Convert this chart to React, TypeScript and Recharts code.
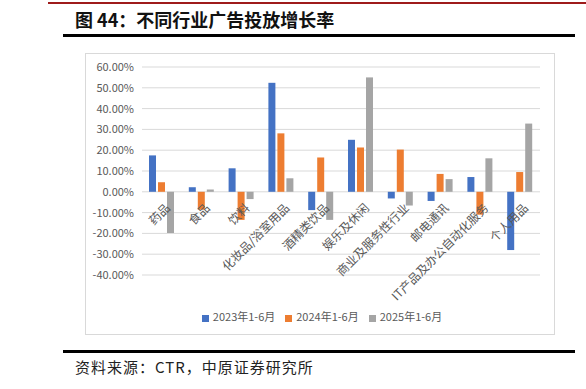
import React from 'react';
import { BarChart, Bar, XAxis, YAxis, CartesianGrid, Legend } from 'recharts';

// industries, as they appear on the x axis
const CATEGORIES = [
    '药品',
    '食品',
    '饮料',
    '化妆品/浴室用品',
    '酒精类饮品',
    '娱乐及休闲',
    '商业及服务性行业',
    '邮电通讯',
    'IT产品及办公自动化服务',
    '个人用品',
];

// growth rate, %
const H1_2023 = [17.5, 2.2, 11.3, 52.4, -8.8, 25.0, -3.2, -4.4, 7.1, -28.0];
const H1_2024 = [4.6, -8.6, -13.5, 28.1, 16.5, 21.3, 20.3, 8.6, -11.0, 9.5];
const H1_2025 = [-19.8, 1.1, -3.5, 6.5, -13.5, 55.0, -6.6, 6.1, 16.1, 32.8];

const SERIES_NAMES = ['2023年1-6月', '2024年1-6月', '2025年1-6月'];
const Y_TICKS = [-40, -30, -20, -10, 0, 10, 20, 30, 40, 50, 60];

const COLORS = ['#4472C4', '#ED7D31', '#A5A5A5'];
const TEXT = '#595959';
const GRID = '#D9D9D9';
const FONT = '"Noto Sans CJK SC", "Liberation Sans", sans-serif';

const CHART_W = 470;
const CHART_H = 282;
const MARGIN = { top: 14, right: 15, left: 7, bottom: 0 };
const X_AXIS_H = 60;
const Y_MIN = Y_TICKS[0];
const Y_MAX = Y_TICKS[Y_TICKS.length - 1];

// distance from the plot bottom up to the zero line; category labels hang off the zero line like in Excel
const PLOT_H = CHART_H - MARGIN.top - MARGIN.bottom - X_AXIS_H;
const ZERO_SHIFT = (PLOT_H * (0 - Y_MIN)) / (Y_MAX - Y_MIN);

const data = CATEGORIES.map((name, i) => ({
    name,
    a: H1_2023[i],
    b: H1_2024[i],
    c: H1_2025[i],
}));

const CategoryTick = (props: any) => {
    const { x, y, payload } = props;
    return (
        <g transform={`translate(${x + 6},${y - ZERO_SHIFT + 12})`}>
            <text
                textAnchor="end"
                transform="rotate(-45)"
                dy="0.35em"
                fill={TEXT}
                fontSize={12}
                fontFamily={FONT}
            >
                {payload.value}
            </text>
        </g>
    );
};

export default function App() {
    return (
        <div
            style={{
                position: 'absolute',
                left: 0,
                top: 0,
                width: 586,
                height: 389,
                background: '#fff',
                fontFamily: FONT,
                overflow: 'hidden',
            }}
        >
            {/* header rules and title */}
            <div style={{ position: 'absolute', left: 48, top: 2, width: 538, height: 2, background: '#9E1B1B' }} />
            <div
                style={{
                    position: 'absolute',
                    left: 75,
                    top: 6,
                    fontSize: 18,
                    fontWeight: 700,
                    color: '#111',
                    whiteSpace: 'nowrap',
                }}
            >
                图 44：不同行业广告投放增长率
            </div>
            <div style={{ position: 'absolute', left: 63, top: 34, width: 512, height: 3, background: '#000' }} />

            {/* chart frame */}
            <div
                style={{
                    position: 'absolute',
                    left: 85,
                    top: 53,
                    width: CHART_W,
                    height: CHART_H,
                    boxSizing: 'border-box',
                    border: `1px solid ${GRID}`,
                }}
            />
            <div style={{ position: 'absolute', left: 85, top: 53 }}>
                <BarChart
                    width={CHART_W}
                    height={CHART_H}
                    data={data}
                    margin={MARGIN}
                    barSize={7}
                    barGap={2}
                >
                    <CartesianGrid vertical={false} stroke={GRID} />
                    <XAxis
                        dataKey="name"
                        height={X_AXIS_H}
                        axisLine={false}
                        tickLine={false}
                        tickSize={0}
                        interval={0}
                        tick={<CategoryTick />}
                    />
                    <YAxis
                        domain={[Y_MIN, Y_MAX]}
                        ticks={Y_TICKS}
                        width={50}
                        axisLine={false}
                        tickLine={false}
                        tickFormatter={(v: number) => `${v.toFixed(2)}%`}
                        tick={{ fill: TEXT, fontSize: 11, fontFamily: FONT }}
                        interval={0}
                    />
                    <Legend
                        layout="horizontal"
                        verticalAlign="middle"
                        align="center"
                        iconType="square"
                        iconSize={7}
                        wrapperStyle={{ top: 255, left: 7, width: CHART_W, fontSize: 11, fontFamily: FONT }}
                        formatter={(value: string) => <span style={{ color: TEXT }}>{value}</span>}
                    />
                    <Bar dataKey="a" name={SERIES_NAMES[0]} fill={COLORS[0]} isAnimationActive={false} />
                    <Bar dataKey="b" name={SERIES_NAMES[1]} fill={COLORS[1]} isAnimationActive={false} />
                    <Bar dataKey="c" name={SERIES_NAMES[2]} fill={COLORS[2]} isAnimationActive={false} />
                </BarChart>
            </div>

            {/* footer */}
            <div style={{ position: 'absolute', left: 63, top: 350, width: 512, height: 3, background: '#000' }} />
            <div
                style={{
                    position: 'absolute',
                    left: 75,
                    top: 356,
                    fontSize: 15,
                    letterSpacing: 1,
                    color: '#222',
                    whiteSpace: 'nowrap',
                }}
            >
                资料来源：CTR，中原证券研究所
            </div>
        </div>
    );
}
